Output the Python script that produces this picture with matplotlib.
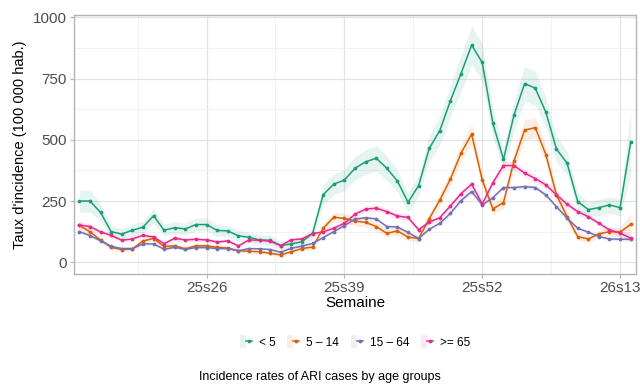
import numpy as np
import matplotlib
matplotlib.use("Agg")
import matplotlib.pyplot as plt
from matplotlib.lines import Line2D
from matplotlib.patches import Patch
from matplotlib.legend_handler import HandlerTuple

plt.rcParams['font.family'] = ['Liberation Sans', 'DejaVu Sans']

# weeks 25s14 .. 26s14
weeks = ["25s%02d" % w for w in range(14, 53)] + ["26s%02d" % w for w in range(1, 15)]
tick_weeks = ["25s26", "25s39", "25s52", "26s13"]

groups = ["< 5", "5 \u2013 14", "15 \u2013 64", ">= 65"]
colors = ["#1B9E77", "#D95F02", "#7570B3", "#E7298A"]

# incidence per 100 000
inc_lt5 = [250, 250, 204, 125, 115, 131, 143, 190, 131, 141, 136, 154, 154, 130, 128, 108, 102, 91,
           90, 68, 75, 84, 118, 276, 319, 336, 384, 410, 425, 384, 332, 245, 313, 465, 538, 660,
           771, 887, 816, 568, 420, 602, 730, 711, 613, 462, 405, 248, 215, 223, 234, 223, 491]
inc_5_14 = [151, 124, 91, 61, 52, 54, 87, 97, 64, 67, 55, 67, 67, 61, 58, 47, 45, 43,
            37, 30, 43, 56, 62, 139, 184, 179, 168, 163, 146, 118, 128, 103, 97, 178, 254, 340,
            446, 523, 336, 218, 244, 415, 540, 550, 440, 275, 186, 105, 95, 116, 125, 123, 155]
inc_15_64 = [125, 109, 88, 65, 56, 56, 75, 75, 53, 61, 53, 60, 60, 56, 56, 47, 56, 55,
             52, 41, 57, 66, 77, 101, 125, 150, 176, 182, 177, 146, 144, 122, 97, 135, 159, 200,
             252, 289, 234, 264, 305, 305, 309, 305, 275, 227, 180, 139, 123, 105, 95, 94, 94]
inc_ge65 = [152, 146, 124, 110, 90, 95, 110, 103, 76, 98, 91, 94, 91, 83, 87, 67, 91, 90,
            86, 68, 92, 95, 117, 124, 139, 159, 196, 217, 221, 207, 189, 183, 133, 164, 182, 230,
            280, 319, 238, 325, 395, 395, 364, 342, 316, 275, 237, 207, 186, 159, 132, 119, 98]

# half width of the confidence band
hw_lt5 = [45, 45, 35, 25, 22, 24, 25, 30, 24, 25, 24, 26, 26, 24, 24, 22, 21, 20,
          20, 18, 18, 20, 24, 40, 42, 44, 48, 50, 52, 50, 45, 38, 42, 52, 58, 65,
          72, 80, 75, 58, 48, 62, 70, 70, 62, 52, 48, 35, 32, 32, 34, 34, 130]
hw_5_14 = [18, 16, 13, 10, 10, 10, 12, 13, 10, 10, 10, 10, 10, 10, 10, 9, 9, 9,
           8, 8, 9, 10, 11, 17, 20, 20, 19, 19, 18, 16, 17, 15, 14, 20, 25, 30,
           35, 40, 30, 24, 25, 35, 42, 42, 36, 28, 22, 16, 15, 16, 18, 20, 45]
hw_15_64 = [7, 6, 5, 5, 4, 4, 5, 5, 4, 4, 4, 4, 4, 4, 4, 4, 4, 4,
            4, 4, 4, 5, 5, 6, 6, 7, 7, 7, 7, 6, 6, 6, 5, 6, 7, 8,
            9, 9, 8, 9, 9, 9, 9, 9, 9, 8, 7, 7, 6, 6, 6, 7, 10]
hw_ge65 = [12, 11, 10, 9, 8, 8, 9, 9, 8, 9, 8, 8, 8, 8, 8, 7, 8, 8,
           8, 7, 8, 8, 9, 10, 10, 11, 12, 13, 13, 12, 12, 12, 10, 11, 12, 14,
           15, 16, 14, 16, 18, 18, 17, 16, 16, 15, 14, 13, 12, 12, 12, 13, 18]

series = [inc_lt5, inc_5_14, inc_15_64, inc_ge65]
halfw = [hw_lt5, hw_5_14, hw_15_64, hw_ge65]

fig = plt.figure(figsize=(6.4, 3.84), dpi=100)
ax = fig.add_axes([74 / 640, 1 - 274 / 384, 562 / 640, 259 / 384])

x = np.arange(len(weeks))
for vals, hw, col in zip(series, halfw, colors):
    v = np.array(vals, dtype=float)
    h = np.array(hw, dtype=float)
    ax.fill_between(x, v - h, v + h, color=col, alpha=0.11, lw=0, zorder=2)
for vals, col in zip(series, colors):
    ax.plot(x, vals, color=col, lw=1.1, marker='o', ms=1.7, zorder=3)

ax.set_xlim(-0.5, len(weeks) - 0.5)
ax.set_ylim(-48, 1010)
ax.set_xticks([weeks.index(w) for w in tick_weeks])
ax.set_xticklabels(tick_weeks)
ax.set_xticks([weeks.index(w) - 6.5 for w in tick_weeks], minor=True)
ax.set_yticks([0, 250, 500, 750, 1000])
ax.set_yticks([125, 375, 625, 875], minor=True)

ax.grid(which='major', color='#E3E3E3', lw=0.9, zorder=0)
ax.grid(which='minor', color='#F0F0F0', lw=0.6, zorder=0)
ax.set_axisbelow(True)
for s in ax.spines.values():
    s.set_color('#B3B3B3')
    s.set_linewidth(1.0)
ax.tick_params(which='major', length=3, color='#B3B3B3', labelsize=11, labelcolor='#4D4D4D', pad=2)
ax.tick_params(which='minor', length=0)

ax.set_xlabel("Semaine", fontsize=11, labelpad=1)
ax.set_ylabel("Taux d'incidence (100 000 hab.)", fontsize=10.5, labelpad=4)

handles = [(Patch(facecolor=c, alpha=0.11, lw=0),
            Line2D([], [], color=c, lw=1.1, marker='o', ms=1.7)) for c in colors]
fig.legend(handles, groups, handler_map={tuple: HandlerTuple(ndivide=None, pad=0)},
           loc='center', bbox_to_anchor=(355 / 640, 1 - 342 / 384), ncol=4, frameon=False,
           fontsize=8.5, handlelength=1.0, handleheight=1.3, handletextpad=0.6,
           columnspacing=1.0)

fig.text(0.5, 1 - 377 / 384, "Incidence rates of ARI cases by age groups",
         ha='center', va='center', fontsize=9)

fig.savefig("out.png", dpi=100)
